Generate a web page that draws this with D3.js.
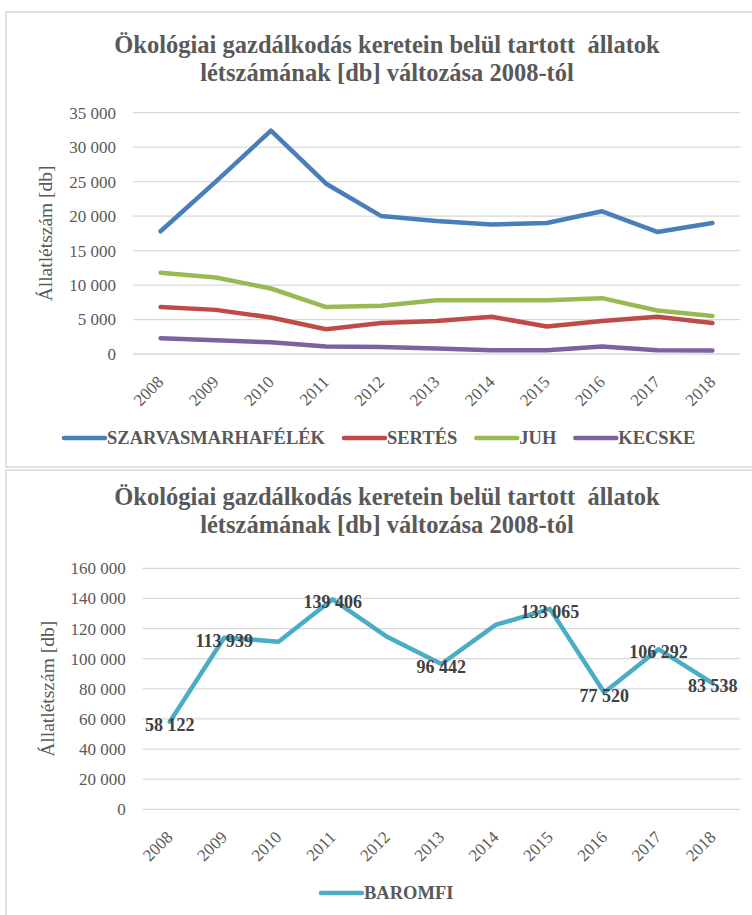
<!DOCTYPE html>
<html>
<head>
<meta charset="utf-8">
<script src="https://cdn.jsdelivr.net/npm/d3@7"></script>
<style>
  body { margin: 0; background: #fff; }
  svg text { font-family: "Liberation Serif", "Times New Roman", serif; white-space: pre; }
</style>
</head>
<body>
<div class="canvas"></div>
<script>
// data
const years = ["2008", "2009", "2010", "2011", "2012", "2013", "2014", "2015", "2016", "2017", "2018"];
const szarvasmarha = [17800, 25000, 32400, 24700, 20000, 19300, 18800, 19000, 20700, 17700, 19000];
const sertes = [6800, 6400, 5300, 3600, 4500, 4800, 5400, 4000, 4800, 5400, 4500];
const juh = [11800, 11100, 9500, 6800, 7000, 7800, 7800, 7800, 8100, 6300, 5500];
const kecske = [2300, 2000, 1700, 1100, 1000, 800, 550, 550, 1100, 550, 500];
const baromfi = [58122, 113939, 111300, 139406, 114500, 96442, 122400, 133065, 77520, 106292, 83538];
// years whose poultry value carries a data label
const baromfiLabelYears = ["2008", "2009", "2011", "2013", "2015", "2016", "2017", "2018"];
const topTicks = [0, 5000, 10000, 15000, 20000, 25000, 30000, 35000];
const bottomTicks = [0, 20000, 40000, 60000, 80000, 100000, 120000, 140000, 160000];
const titleLines = ["Ökológiai gazdálkodás keretein belül tartott  állatok", "létszámának [db] változása 2008-tól"];
const yTitle = "Állatlétszám [db]";

const topSeries = [
  { name: "SZARVASMARHAFÉLÉK", values: szarvasmarha, color: "#4a7ebb" },
  { name: "SERTÉS", values: sertes, color: "#be4b48" },
  { name: "JUH", values: juh, color: "#98b954" },
  { name: "KECSKE", values: kecske, color: "#7d60a0" }
];
const bottomSeries = [{ name: "BAROMFI", values: baromfi, color: "#4bacc6", labelYears: baromfiLabelYears }];

const fmt = d3.formatLocale({ decimal: ",", thousands: " ", grouping: [3], currency: ["", ""] }).format(",d");

const svg = d3.select(".canvas").append("svg").attr("width", 752).attr("height", 915);

// chart frames
svg.append("rect").attr("x", 6).attr("y", 12).attr("width", 800).attr("height", 455)
  .attr("fill", "none").attr("stroke", "#d9d9d9").attr("stroke-width", 1.5);
svg.append("rect").attr("x", 6).attr("y", 470).attr("width", 800).attr("height", 500)
  .attr("fill", "none").attr("stroke", "#d9d9d9").attr("stroke-width", 1.5);

const drawChart = (cfg) => {
  const g = svg.append("g");

  // title
  titleLines.forEach((t, i) => {
    g.append("text")
      .attr("x", 387).attr("y", cfg.titleY + i * 27.5)
      .attr("text-anchor", "middle")
      .attr("font-size", 24.5).attr("font-weight", "bold").attr("fill", "#595959")
      .text(t);
  });

  const x = d3.scaleBand().domain(years).range([cfg.left, cfg.right]);
  const y = d3.scaleLinear().domain([0, cfg.max]).range([cfg.bottom, cfg.top]);
  const cx = (yr) => x(yr) + x.bandwidth() / 2;

  // gridlines
  g.append("g").selectAll("line").data(cfg.ticks).enter().append("line")
    .attr("x1", cfg.left).attr("x2", cfg.right)
    .attr("y1", (d) => y(d)).attr("y2", (d) => y(d))
    .attr("stroke", "#d9d9d9").attr("stroke-width", 1.3);

  // y axis
  const yAxis = d3.axisLeft(y).tickValues(cfg.ticks).tickFormat(fmt).tickSize(0).tickPadding(0);
  const yAxisGroup = g.append("g").attr("transform", `translate(${cfg.left - 17},0)`).call(yAxis);
  yAxisGroup.select(".domain").remove();
  yAxisGroup.selectAll("text")
    .attr("font-size", 17).attr("fill", "#595959");

  // x axis
  const xAxis = d3.axisBottom(x).tickSize(0).tickPadding(0);
  const xAxisGroup = g.append("g").attr("transform", `translate(0,${cfg.bottom})`).call(xAxis);
  xAxisGroup.select(".domain").remove();
  xAxisGroup.selectAll("text")
    .attr("font-size", 17).attr("fill", "#595959")
    .attr("y", 0).attr("dy", 0)
    .attr("text-anchor", "end")
    .attr("transform", "translate(4,29) rotate(-45)");

  // y title
  g.append("text")
    .attr("transform", `translate(${cfg.yTitleX},${(cfg.top + cfg.bottom) / 2}) rotate(-90)`)
    .attr("text-anchor", "middle").attr("dy", "0.35em")
    .attr("font-size", 19.5).attr("fill", "#595959")
    .text(yTitle);

  // lines
  const line = d3.line()
    .x((d, i) => cx(years[i]))
    .y((d) => y(d));

  cfg.series.forEach((s) => {
    g.append("path")
      .datum(s.values)
      .attr("fill", "none")
      .attr("stroke", s.color)
      .attr("stroke-width", 4.5)
      .attr("stroke-linejoin", "round")
      .attr("stroke-linecap", "round")
      .attr("d", line);

    if (s.labelYears) {
      const pts = years.map((yr, i) => ({ yr, v: s.values[i] })).filter((p) => s.labelYears.includes(p.yr));
      g.append("g").selectAll("text").data(pts).enter().append("text")
        .attr("x", (d) => cx(d.yr))
        .attr("y", (d) => y(d.v))
        .attr("dy", "0.5em")
        .attr("text-anchor", "middle")
        .attr("font-size", 18).attr("font-weight", "bold").attr("fill", "#404040")
        .text((d) => fmt(d.v));
    }
  });

  // legend
  const legend = g.append("g").attr("transform", `translate(${cfg.legendX},${cfg.legendY})`);
  let lx = 0;
  cfg.series.forEach((s) => {
    legend.append("line")
      .attr("x1", lx + 2).attr("x2", lx + 43).attr("y1", 0).attr("y2", 0)
      .attr("stroke", s.color).attr("stroke-width", 4.5).attr("stroke-linecap", "round");
    const t = legend.append("text")
      .attr("x", lx + 45).attr("y", 0).attr("dy", "0.35em")
      .attr("font-size", 18.5).attr("font-weight", "bold").attr("fill", "#595959")
      .text(s.name);
    lx += 45 + t.node().getComputedTextLength() + 17;
  });
};

drawChart({
  series: topSeries, ticks: topTicks, max: 35000,
  left: 133, right: 740, top: 112.7, bottom: 354,
  titleY: 53, yTitleX: 45, legendX: 62, legendY: 438
});

drawChart({
  series: bottomSeries, ticks: bottomTicks, max: 160000,
  left: 142.7, right: 740, top: 568.3, bottom: 809.3,
  titleY: 505, yTitleX: 47, legendX: 319, legendY: 893
});
</script>
</body>
</html>
